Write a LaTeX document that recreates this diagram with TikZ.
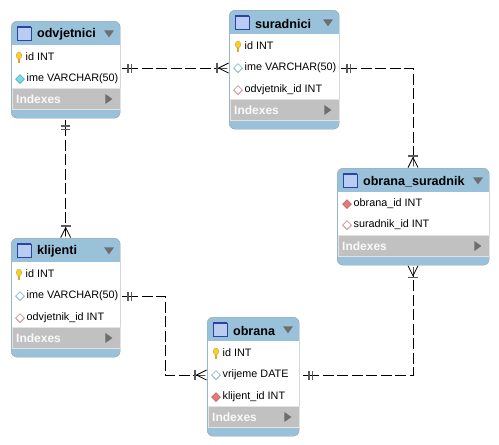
\documentclass[tikz,border=0pt]{standalone}
\usepackage{fontspec}
\setmainfont{Liberation Sans}
\usepackage{xcolor}
\usetikzlibrary{arrows.meta,calc,positioning,shapes.geometric}
\definecolor{headblue}{RGB}{154,193,218}
\definecolor{indexgray}{RGB}{193,193,193}
\definecolor{framegray}{RGB}{150,160,170}
\definecolor{menugray}{RGB}{110,110,110}
\definecolor{bargray}{RGB}{90,90,90}
\definecolor{keyyellow}{RGB}{250,205,40}
\definecolor{fkred}{RGB}{232,120,120}
\definecolor{fkline}{RGB}{170,90,90}
\definecolor{attrcyan}{RGB}{110,225,235}
\definecolor{attrline}{RGB}{70,150,160}
\definecolor{iconblue}{RGB}{185,205,240}
\definecolor{icondark}{RGB}{45,65,170}

% one table: id, title, left, top, width, body height
\newcommand{\ertable}[6]{
  \pgfmathsetmacro{\tabh}{24+#6+21+9}
  \node[tablebox, minimum width=#5, minimum height=\tabh, anchor=north west] (#1) at (#3,#4) {};
  \node[bodybox, minimum width=#5-1, minimum height=#6, anchor=north west] (#1-body) at (#3+0.5,#4+24) {};
  \node[indexbox, minimum width=#5-1, minimum height=21, anchor=north west] (#1-index) at (#3+0.5,#4+24+#6) {};
  \node[iconbox, anchor=west] (#1-icon) at (#3+6,#4+12.5) {};
  \draw[icondark, line width=1.2pt] (#1-icon.north west) -- (#1-icon.north east);
  \node[titletext, right=6pt of #1-icon, yshift=-1pt] (#1-title) {#2};
  \node[menutri, shape border rotate=270] (#1-menu) at (#3+#5-11,#4+12) {};
  \node[indextext, anchor=west] (#1-idx) at (#3+5,#4+24+#6+11) {Indexes};
  \node[menutri, shape border rotate=0] (#1-more) at (#3+#5-12,#4+24+#6+11) {};
}
% one column: id, x, y, icon style, text
\newcommand{\ercol}[5]{
  \node[#4] (#1-mark) at (#2,#3) {};
  \node[coltext, anchor=west] (#1) at (#2+6.5,#3) {#5};
}

\begin{document}
\begin{tikzpicture}[
  x=1pt, y=-1pt,
  tablebox/.style={draw=framegray, fill=headblue, rounded corners=6pt, inner sep=0pt},
  bodybox/.style={fill=white, inner sep=0pt},
  indexbox/.style={fill=indexgray, draw=white!55!indexgray, line width=0.5pt, inner sep=0pt},
  iconbox/.style={draw=icondark, fill=iconblue, minimum size=13.5pt, inner sep=0pt},
  titletext/.style={font=\fontsize{12.6}{14}\selectfont\bfseries, inner sep=0pt},
  coltext/.style={font=\fontsize{10.8}{13}\selectfont, inner sep=0pt},
  indextext/.style={font=\fontsize{12}{14}\selectfont\bfseries, text=white!90!indexgray, inner sep=0pt},
  menutri/.style={isosceles triangle, isosceles triangle apex angle=70, fill=menugray, minimum height=7pt, minimum width=8pt, inner sep=0pt},
  keymark/.style={ellipse, fill=keyyellow, draw=keyyellow!70!black, line width=0.2pt, minimum width=5.5pt, minimum height=7pt, inner sep=0pt, yshift=1.5pt,
    append after command={(\tikzlastnode.south) edge[keyyellow!85!black, line width=2pt] ++(0,4)}},
  fkmark/.style={diamond, draw=fkline, fill=white, line width=0.5pt, minimum size=9pt, inner sep=0pt},
  fkfull/.style={diamond, draw=fkline, fill=fkred, line width=0.5pt, minimum size=9pt, inner sep=0pt},
  attrmark/.style={diamond, draw=attrline, fill=white, line width=0.5pt, minimum size=9pt, inner sep=0pt},
  attrfull/.style={diamond, draw=attrline, fill=attrcyan, line width=0.5pt, minimum size=9pt, inner sep=0pt},
  rel/.style={dash pattern=on 11pt off 3.5pt, line width=0.8pt,
    {Rectangle[length=5pt,width=0.8pt,line width=0pt,sep=0pt]Rectangle[length=1.2pt,width=9pt,line width=0pt,color=bargray,sep=0pt]Rectangle[length=2.2pt,width=0.8pt,line width=0pt,sep=0pt]Rectangle[length=1.2pt,width=9pt,line width=0pt,color=bargray,sep=0pt]}-{Bar[width=10pt,line width=1.5pt,color=bargray,sep=0pt]Rectangle[length=10pt,width=0.8pt,sep=-10pt]Straight Barb[reversed,length=10pt,width=10pt]}}
]
\useasboundingbox (0,0) rectangle (499,445);
\fill[white] (0,0) rectangle (499,445);

\ertable{odvjetnici}{odvjetnici}{11}{21}{109}{43}
\ertable{suradnici}{suradnici}{229}{10}{110}{65}
\ertable{obranasur}{obrana\_suradnik}{337}{168}{152}{43}
\ertable{klijenti}{klijenti}{11}{238}{109}{65}
\ertable{obrana}{obrana}{207}{317}{92}{65}

\ercol{odvid}{19}{57}{keymark}{id INT}
\ercol{odvime}{20}{79}{attrfull}{ime VARCHAR(50)}
\ercol{surid}{238}{46}{keymark}{id INT}
\ercol{surime}{238}{68}{attrmark}{ime VARCHAR(50)}
\ercol{surodv}{238}{90}{fkmark}{odvjetnik\_id INT}
\ercol{osobr}{347}{204}{fkfull}{obrana\_id INT}
\ercol{ossur}{347}{225}{fkmark}{suradnik\_id INT}
\ercol{kliid}{19}{274}{keymark}{id INT}
\ercol{kliime}{20}{296}{attrmark}{ime VARCHAR(50)}
\ercol{kliodv}{20}{318}{fkmark}{odvjetnik\_id INT}
\ercol{obrid}{216}{353}{keymark}{id INT}
\ercol{obrvri}{216}{375}{attrmark}{vrijeme DATE}
\ercol{obrkli}{216}{397}{fkfull}{klijent\_id INT}

\coordinate (surbend) at (413,68);
\coordinate (kliup) at (165,296);
\coordinate (klidown) at (165,375);
\coordinate (obrbend) at (413,375);

\draw[rel] ($(odvjetnici.east |- surime)+(2,0)$) -- (suradnici.west |- surime);
\draw[rel] ($(odvjetnici.south)+(0,2)$) -- (klijenti.north);
\draw[rel] ($(suradnici.east |- surime)+(2,0)$) -- (surbend) -- (obranasur.north -| surbend);
\draw[rel] ($(klijenti.east |- kliime)+(2,0)$) -- (kliup) -- (klidown) -- (obrana.west |- obrvri);
\draw[rel] ($(obrana.east |- obrvri)+(4,0)$) -- (obrbend) -- (obranasur.south -| obrbend);
\end{tikzpicture}
\end{document}
